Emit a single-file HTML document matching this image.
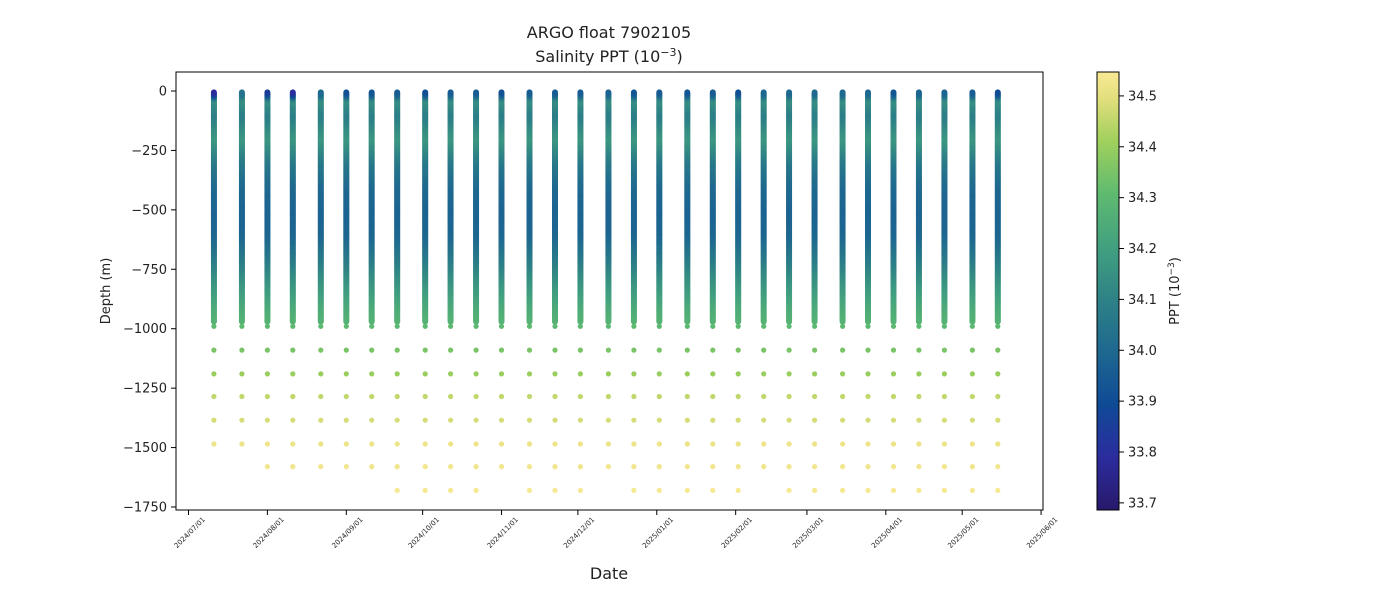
<!DOCTYPE html>
<html><head><meta charset="utf-8"><style>
body{margin:0;background:#fff;}
svg text{font-family:"DejaVu Sans","Liberation Sans",sans-serif;fill:#222;}
</style></head><body>
<svg id="chart" width="1400" height="600" xmlns="http://www.w3.org/2000/svg">
<defs><linearGradient id="cbgrad" x1="0" y1="1" x2="0" y2="0"></linearGradient></defs>
<text x="609" y="38" text-anchor="middle" font-size="16">ARGO float 7902105</text>
<text x="609" y="62" text-anchor="middle" font-size="16">Salinity PPT (10<tspan dy="-6" font-size="11">−3</tspan><tspan dy="6">)</tspan></text>
<g id="marks"></g>
<rect x="176" y="72" width="867" height="438" fill="none" stroke="#000" stroke-width="1"/>
<g id="axes"></g>
<text transform="translate(110,291) rotate(-90)" text-anchor="middle" font-size="13">Depth (m)</text>
<text x="609" y="579" text-anchor="middle" font-size="16">Date</text>
<rect x="1097" y="72" width="22" height="438" fill="url(#cbgrad)" stroke="#000" stroke-width="1"/>
<g id="cbticks"></g>
<text transform="translate(1179,291) rotate(-90)" text-anchor="middle" font-size="13">PPT (10<tspan dy="-5" font-size="9">−3</tspan><tspan dy="5">)</tspan></text>
</svg>
<script>
const profileDates=["2024-07-11","2024-07-22","2024-08-01","2024-08-11","2024-08-22","2024-09-01","2024-09-11","2024-09-21","2024-10-02","2024-10-12","2024-10-22","2024-11-01","2024-11-12","2024-11-22","2024-12-02","2024-12-13","2024-12-23","2025-01-02","2025-01-13","2025-01-23","2025-02-02","2025-02-12","2025-02-22","2025-03-04","2025-03-15","2025-03-25","2025-04-04","2025-04-14","2025-04-24","2025-05-05","2025-05-15"];
const surfaceSal=[33.75,34.05,33.82,33.76,34.0,33.9,33.92,33.95,33.9,33.95,33.95,33.9,33.95,33.95,33.95,33.98,33.92,33.95,33.92,33.95,33.9,34.0,34.0,34.0,34.0,34.0,33.92,33.98,33.98,33.95,33.88];
const maxDepth=[1485,1485,1580,1580,1580,1580,1580,1680,1680,1680,1680,1580,1680,1680,1680,1580,1680,1680,1680,1680,1680,1580,1680,1680,1680,1680,1680,1680,1680,1680,1680];
const baseDepths=[0,30,60,100,150,200,300,400,500,600,700,800,900,970];
const baseSal=[33.95,34.15,34.12,34.08,34.13,34.17,34.06,34.0,33.98,33.99,34.07,34.16,34.24,34.28];
const deepDepths=[990,1090,1190,1285,1385,1485,1580,1680];
const deepSal=[34.3,34.35,34.4,34.45,34.48,34.52,34.53,34.54];
const yTicks=[0,-250,-500,-750,-1000,-1250,-1500,-1750];
const xTickLabels=["2024/07/01","2024/08/01","2024/09/01","2024/10/01","2024/11/01","2024/12/01","2025/01/01","2025/02/01","2025/03/01","2025/04/01","2025/05/01","2025/06/01"];
const cbTicks=[33.7,33.8,33.9,34.0,34.1,34.2,34.3,34.4,34.5];
const cmapStops=[[0,"#28196b"],[0.12,"#2c2c9e"],[0.24,"#0f4a96"],[0.36,"#1e6890"],[0.48,"#2e8286"],[0.6,"#42a07f"],[0.72,"#5eba70"],[0.84,"#9fd05c"],[0.94,"#e2df7c"],[1,"#f8ea95"]];
const NS="http://www.w3.org/2000/svg";
const vmin=33.686,vmax=34.547;
const t0=Date.UTC(2024,6,1);
function xScale(d){const t=(Date.parse(d.replace(/\//g,"-")+"T00:00:00Z")-t0)/86400000;return 188.5+t*2.545;}
function yScale(v){return 91+(-v)*(416/1750);}
function cScale(v){return 510-(v-vmin)/(vmax-vmin)*438;}
function hex(c){return [1,3,5].map(i=>parseInt(c.substr(i,2),16));}
function cmap(v){let f=(v-vmin)/(vmax-vmin);f=Math.max(0,Math.min(1,f));
for(let i=1;i<cmapStops.length;i++){if(f<=cmapStops[i][0]){const a=cmapStops[i-1],b=cmapStops[i];const u=(f-a[0])/(b[0]-a[0]);const A=hex(a[1]),B=hex(b[1]);return "rgb("+A.map((x,k)=>Math.round(x+(B[k]-x)*u)).join(",")+")";}}return cmapStops[cmapStops.length-1][1];}
function interp(d,xs,ys){for(let i=1;i<xs.length;i++){if(d<=xs[i]){const u=(d-xs[i-1])/(xs[i]-xs[i-1]);return ys[i-1]+(ys[i]-ys[i-1])*u;}}return ys[ys.length-1];}
function el(tag,attrs,parent){const e=document.createElementNS(NS,tag);for(const k in attrs)e.setAttribute(k,attrs[k]);parent.appendChild(e);return e;}
const grad=document.getElementById("cbgrad");
cmapStops.forEach(s=>{el("stop",{offset:s[0],"stop-color":s[1]},grad);});
const marks=document.getElementById("marks");
profileDates.forEach((d,p)=>{
  const g=el("g",{},marks);
  
  
  const cx=xScale(d);
  for(let z=970;z>=5;z-=4){
    let s=interp(z,baseDepths,baseSal);
    if(z<40){const w=1-z/40;s=s*(1-w)+surfaceSal[p]*w;}
    el("circle",{cx:cx.toFixed(1),cy:yScale(-z).toFixed(1),r:3,fill:cmap(s)},g);
  }
  deepDepths.forEach((z,i)=>{
    if(z<=maxDepth[p]){const c=el("circle",{cx:cx.toFixed(1),cy:yScale(-z).toFixed(1),r:2.6,fill:cmap(deepSal[i])},g);
    
    }
  });
});
const axes=document.getElementById("axes");
yTicks.forEach(v=>{const y=yScale(v);
  el("line",{x1:171,x2:176,y1:y,y2:y,stroke:"#000"},axes);
  const t=el("text",{x:167,y:y+4.5,"text-anchor":"end","font-size":13},axes);
  
  
  t.textContent=v===0?"0":"\u2212"+Math.abs(v);});
xTickLabels.forEach(l=>{const x=xScale(l);
  el("line",{x1:x,x2:x,y1:510,y2:515,stroke:"#000"},axes);
  const t=el("text",{transform:"translate("+(x+17)+",520) rotate(-45)","text-anchor":"end","font-size":7},axes);
  
  
  t.textContent=l;});
const cbt=document.getElementById("cbticks");
cbTicks.forEach(v=>{const y=cScale(v);
  el("line",{x1:1119,x2:1124,y1:y,y2:y,stroke:"#000"},cbt);
  const t=el("text",{x:1128,y:y+4.5,"font-size":13},cbt);
  
  
  t.textContent=v.toFixed(1);});
</script>
</body></html>
